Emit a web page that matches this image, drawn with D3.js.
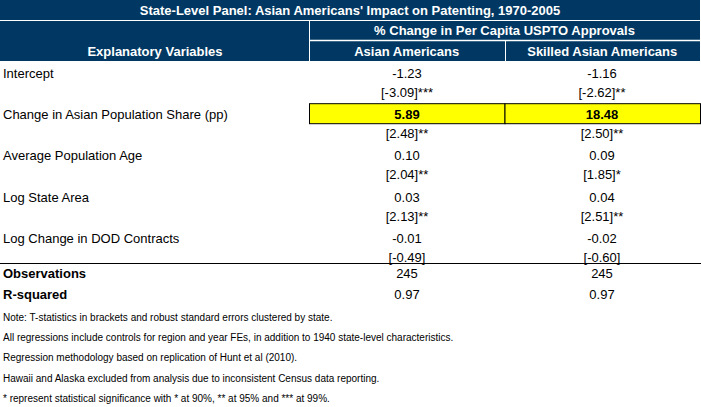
<!DOCTYPE html>
<html><head><meta charset="utf-8">
<script src="https://cdn.jsdelivr.net/npm/d3@7"></script>
<style>body{margin:0;background:#fff}text{font-family:"Liberation Sans",Arial,sans-serif}</style>
</head><body><div id="tabla"></div>
<script>
// Datos
const titulo = "State-Level Panel: Asian Americans' Impact on Patenting, 1970-2005"
const subtitulo = "% Change in Per Capita USPTO Approvals"
const columnas = ["Asian Americans", "Skilled Asian Americans"]
const variables = ["Intercept", "Change in Asian Population Share (pp)", "Average Population Age", "Log State Area", "Log Change in DOD Contracts"]
const coefAsian = ["-1.23", "5.89", "0.10", "0.03", "-0.01"]
const coefSkilled = ["-1.16", "18.48", "0.09", "0.04", "-0.02"]
const tAsian = ["[-3.09]***", "[2.48]**", "[2.04]**", "[2.13]**", "[-0.49]"]
const tSkilled = ["[-2.62]**", "[2.50]**", "[1.85]*", "[2.51]**", "[-0.60]"]
const resumen = ["Observations", "R-squared"]
const resumenAsian = ["245", "0.97"]
const resumenSkilled = ["245", "0.97"]
const notas = [
  "Note: T-statistics in brackets and robust standard errors clustered by state.",
  "All regressions include controls for region and year FEs, in addition to 1940 state-level characteristics.",
  "Regression methodology based on replication of Hunt et al (2010).",
  "Hawaii and Alaska excluded from analysis due to inconsistent Census data reporting.",
  "* represent statistical significance with * at 90%, ** at 95% and *** at 99%."
]

const W = 701, H = 407
const navy = "#003863"
const svg = d3.select("#tabla").append("svg").attr("width", W).attr("height", H)

const x = d3.scaleOrdinal().domain(["var", ...columnas]).range([3, 407, 602])
const col = d3.scaleBand().domain(columnas).range([309, 700])

// Encabezado
svg.append("rect").attr("x", 0).attr("y", 0).attr("width", 700).attr("height", 61).attr("fill", navy)
svg.append("line").attr("x1", 309).attr("x2", 700).attr("y1", 40.5).attr("y2", 40.5).attr("stroke", "#fff").attr("stroke-width", 1.5)
svg.append("line").attr("x1", 0).attr("x2", 700).attr("y1", 20.5).attr("y2", 20.5).attr("stroke", "#fff").attr("stroke-width", 1)
svg.append("line").attr("x1", 309.5).attr("x2", 309.5).attr("y1", 20).attr("y2", 61).attr("stroke", "#fff")
svg.append("line").attr("x1", 505.5).attr("x2", 505.5).attr("y1", 40).attr("y2", 61).attr("stroke", "#fff")

const head = (t, xx, yy) => svg.append("text").attr("x", xx).attr("y", yy).attr("text-anchor", "middle")
  .attr("fill", "#fff").attr("font-weight", "bold").attr("font-size", "13px").text(t)
head(titulo, 350, 15)
head(subtitulo, col.bandwidth() + 309, 35)
head("Explanatory Variables", 155, 56)
columnas.forEach(c => head(c, col(c) + col.bandwidth() / 2, 56))

// Filas
const y = d3.scaleLinear().domain([0, 1]).range([78, 118])
const txt = (t, xx, yy, anchor, bold) => svg.append("text").attr("x", xx).attr("y", yy)
  .attr("text-anchor", anchor).attr("font-size", "13px").attr("font-weight", bold ? "bold" : "normal").attr("fill", "#000").text(t)

variables.forEach((v, i) => {
  const yy = y(i * 1.03)
  if (i === 1) {
    columnas.forEach(c => svg.append("rect").attr("x", col(c) + 0.5).attr("y", yy - 15.5)
      .attr("width", col.bandwidth()).attr("height", 20).attr("fill", "#ffff00").attr("stroke", "#000"))
  }
  txt(v, x("var"), yy, "start", false)
  txt(coefAsian[i], x(columnas[0]), yy, "middle", i === 1)
  txt(coefSkilled[i], x(columnas[1]), yy, "middle", i === 1)
  txt(tAsian[i], x(columnas[0]), yy + 19, "middle", false)
  txt(tSkilled[i], x(columnas[1]), yy + 19, "middle", false)
})

svg.append("line").attr("x1", 0).attr("x2", 701).attr("y1", 263.5).attr("y2", 263.5).attr("stroke", "#000").attr("stroke-width", 1.2)

resumen.forEach((r, i) => {
  const yy = 278 + i * 21
  txt(r, x("var"), yy, "start", true)
  txt(resumenAsian[i], x(columnas[0]), yy, "middle", false)
  txt(resumenSkilled[i], x(columnas[1]), yy, "middle", false)
})

notas.forEach((n, i) => {
  svg.append("text").attr("x", 3).attr("y", 321 + i * 20.2).attr("font-size", "10px").attr("fill", "#000").text(n)
})
</script></body></html>
